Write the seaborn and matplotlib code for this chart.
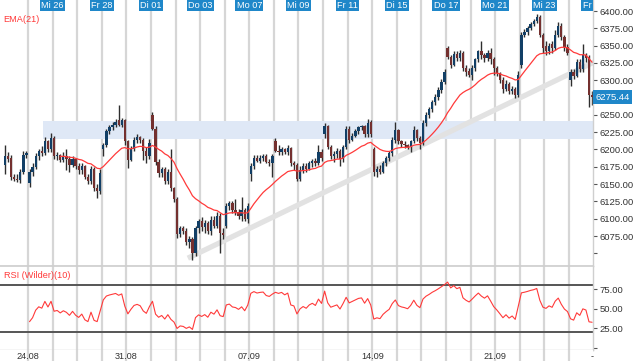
import numpy as np
import pandas as pd
import seaborn as sns
import matplotlib.pyplot as plt

sns.set_theme(style="white")
plt.rcParams["font.family"] = ["Liberation Sans", "DejaVu Sans"]

# hourly candles, 8 per trading day, Mon 24.08 .. Thu 24.09
opens = [
    6178, 6190, 6188, 6160, 6158, 6156, 6168, 6192,
    6152, 6168, 6175, 6190, 6198, 6195, 6212, 6200,
    6216, 6190, 6192, 6185, 6190, 6186, 6178, 6186,
    6176, 6170, 6176, 6160, 6154, 6172, 6145, 6140,
    6200, 6206, 6226, 6232, 6236, 6242, 6236, 6242,
    6212, 6185, 6200, 6214, 6218, 6214, 6198, 6190,
    6250, 6230, 6182, 6166, 6172, 6154, 6168, 6144,
    6128, 6078, 6086, 6082, 6066, 6070, 6050, 6086,
    6096, 6088, 6094, 6082, 6098, 6090, 6104, 6080,
    6090, 6118, 6122, 6112, 6110, 6104, 6112, 6100,
    6165, 6176, 6188, 6184, 6188, 6190, 6182, 6180,
    6212, 6198, 6196, 6200, 6196, 6202, 6180, 6178,
    6158, 6170, 6176, 6172, 6180, 6184, 6180, 6196,
    6222, 6234, 6204, 6190, 6194, 6198, 6186, 6204,
    6230, 6214, 6220, 6226, 6232, 6234, 6222, 6240,
    6200, 6168, 6172, 6168, 6180, 6188, 6195, 6214,
    6228, 6212, 6208, 6206, 6203, 6212, 6228, 6216,
    6210, 6238, 6250, 6258, 6268, 6276, 6286, 6298,
    6347, 6333, 6322, 6338, 6332, 6340, 6318, 6314,
    6308, 6318, 6330, 6342, 6336, 6332, 6340, 6330,
    6318, 6310, 6300, 6288, 6294, 6284, 6288, 6278,
    6322, 6366, 6370, 6375, 6381, 6385, 6392, 6366,
    6350, 6342, 6352, 6346, 6366, 6378, 6362, 6348,
    6300, 6312, 6306, 6326, 6316, 6336, 6334, 6278,
]
highs = [
    6206, 6196, 6192, 6165, 6164, 6172, 6198, 6198,
    6172, 6180, 6195, 6200, 6205, 6218, 6214, 6224,
    6220, 6196, 6194, 6196, 6200, 6190, 6190, 6188,
    6180, 6180, 6178, 6164, 6176, 6175, 6150, 6172,
    6210, 6230, 6236, 6240, 6244, 6264, 6246, 6244,
    6214, 6205, 6218, 6222, 6220, 6216, 6204, 6215,
    6254, 6234, 6186, 6175, 6174, 6172, 6200, 6146,
    6132, 6090, 6090, 6086, 6075, 6074, 6090, 6100,
    6102, 6098, 6096, 6104, 6104, 6110, 6108, 6086,
    6122, 6126, 6126, 6128, 6114, 6132, 6116, 6122,
    6180, 6192, 6192, 6192, 6194, 6194, 6186, 6194,
    6216, 6206, 6204, 6202, 6206, 6204, 6184, 6180,
    6176, 6180, 6180, 6184, 6186, 6188, 6206, 6200,
    6238, 6236, 6206, 6198, 6202, 6200, 6206, 6234,
    6234, 6224, 6230, 6234, 6236, 6236, 6244, 6242,
    6204, 6176, 6178, 6184, 6190, 6198, 6218, 6240,
    6230, 6214, 6212, 6208, 6214, 6234, 6230, 6220,
    6242, 6254, 6262, 6272, 6280, 6290, 6302, 6316,
    6350, 6336, 6342, 6342, 6344, 6342, 6322, 6318,
    6322, 6332, 6344, 6356, 6340, 6344, 6346, 6334,
    6320, 6312, 6304, 6300, 6298, 6292, 6290, 6314,
    6370, 6374, 6378, 6384, 6388, 6396, 6394, 6368,
    6356, 6354, 6356, 6372, 6384, 6382, 6366, 6352,
    6316, 6316, 6330, 6330, 6352, 6340, 6336, 6284,
]
lows = [
    6165, 6182, 6156, 6154, 6153, 6152, 6164, 6188,
    6146, 6162, 6172, 6185, 6190, 6192, 6196, 6196,
    6186, 6185, 6182, 6182, 6170, 6168, 6174, 6172,
    6164, 6165, 6158, 6150, 6150, 6140, 6130, 6136,
    6190, 6204, 6222, 6228, 6232, 6234, 6232, 6206,
    6173, 6183, 6198, 6210, 6210, 6185, 6180, 6186,
    6228, 6178, 6160, 6160, 6150, 6150, 6140, 6124,
    6072, 6074, 6078, 6062, 6058, 6040, 6046, 6080,
    6082, 6080, 6078, 6076, 6086, 6086, 6050, 6070,
    6086, 6112, 6108, 6106, 6100, 6096, 6096, 6094,
    6155, 6172, 6182, 6180, 6184, 6180, 6176, 6160,
    6196, 6192, 6192, 6194, 6192, 6176, 6170, 6154,
    6154, 6166, 6168, 6170, 6174, 6176, 6178, 6184,
    6216, 6200, 6186, 6182, 6188, 6176, 6182, 6200,
    6210, 6212, 6218, 6222, 6228, 6218, 6218, 6218,
    6162, 6160, 6164, 6166, 6176, 6184, 6190, 6210,
    6208, 6204, 6202, 6200, 6196, 6210, 6212, 6200,
    6206, 6234, 6246, 6254, 6264, 6272, 6282, 6294,
    6330, 6318, 6320, 6328, 6328, 6314, 6306, 6304,
    6300, 6314, 6326, 6330, 6326, 6328, 6324, 6308,
    6306, 6296, 6282, 6284, 6280, 6280, 6274, 6276,
    6318, 6362, 6366, 6372, 6378, 6382, 6362, 6340,
    6336, 6338, 6340, 6344, 6362, 6358, 6342, 6336,
    6292, 6302, 6304, 6312, 6312, 6326, 6262, 6264,
]
closes = [
    6190, 6186, 6160, 6158, 6156, 6168, 6192, 6195,
    6168, 6175, 6190, 6198, 6195, 6212, 6200, 6216,
    6190, 6192, 6185, 6190, 6186, 6178, 6186, 6176,
    6170, 6176, 6160, 6154, 6172, 6145, 6140, 6166,
    6206, 6226, 6232, 6236, 6240, 6236, 6242, 6212,
    6185, 6200, 6214, 6218, 6214, 6198, 6190, 6210,
    6230, 6182, 6166, 6172, 6154, 6168, 6144, 6128,
    6078, 6086, 6082, 6066, 6070, 6050, 6086, 6096,
    6088, 6094, 6082, 6098, 6090, 6104, 6080, 6076,
    6118, 6122, 6112, 6110, 6104, 6112, 6100, 6118,
    6176, 6188, 6184, 6188, 6190, 6182, 6180, 6190,
    6198, 6196, 6200, 6196, 6202, 6180, 6178, 6158,
    6170, 6176, 6172, 6180, 6184, 6180, 6196, 6188,
    6234, 6204, 6190, 6194, 6198, 6186, 6204, 6230,
    6214, 6220, 6226, 6232, 6234, 6222, 6238, 6222,
    6168, 6172, 6168, 6180, 6188, 6195, 6214, 6228,
    6212, 6208, 6206, 6203, 6212, 6228, 6216, 6210,
    6238, 6250, 6258, 6268, 6276, 6286, 6298, 6312,
    6333, 6322, 6338, 6332, 6340, 6318, 6312, 6308,
    6318, 6330, 6342, 6336, 6332, 6340, 6330, 6318,
    6310, 6300, 6288, 6294, 6284, 6288, 6278, 6308,
    6366, 6370, 6375, 6381, 6385, 6392, 6366, 6346,
    6342, 6350, 6346, 6366, 6378, 6362, 6348, 6340,
    6312, 6306, 6326, 6316, 6336, 6332, 6278, 6275.44,
]

candles_per_day = 8
top_labels = ["Mi 26", "Fr 28", "Di 01", "Do 03", "Mo 07", "Mi 09",
              "Fr 11", "Di 15", "Do 17", "Mo 21", "Mi 23", "Fr 25"]
top_label_days = [2, 4, 6, 8, 10, 12, 14, 16, 18, 20, 22, 24]
week_labels = ["24.08", "31.08", "07.09", "14.09", "21.09", "-"]
week_label_days = [1, 5, 10, 15, 20, 24]

price_ticks = [6050, 6075, 6100, 6125, 6150, 6175, 6200, 6225, 6250,
               6300, 6325, 6350, 6375, 6400]
rsi_ticks = [0, 25, 50, 75]
rsi_bands = [20, 80]

# resistance zone and support trend line
zone_low, zone_high, zone_from = 6215, 6241, 12.5
trend_x = [59.5, 192.0]
trend_y = [6043, 6327]

o = np.array(opens, dtype=float)
h = np.array(highs, dtype=float)
l = np.array(lows, dtype=float)
c = np.array(closes, dtype=float)
n = len(c)
idx = np.arange(n)

ema = pd.Series(c).ewm(span=21, adjust=False).mean()
delta = pd.Series(c).diff()
gain = delta.clip(lower=0).ewm(alpha=1 / 10, adjust=False).mean()
loss = (-delta.clip(upper=0)).ewm(alpha=1 / 10, adjust=False).mean()
rsi = 100 - 100 / (1 + gain / loss)

UP, DOWN, WICK = "#123f66", "#74302f", "#2e2e2e"
RED = "#ff3a3a"
BLUE = "#1f87c9"
GRID = "#d6d6d6"
TXT = "#333333"

W, H = 640, 361
def box(x0, y0, x1, y1):
    return [x0 / W, 1 - y1 / H, (x1 - x0) / W, (y1 - y0) / H]

fig = plt.figure(figsize=(6.4, 3.61), dpi=100)
ax = fig.add_axes(box(0, 0, 593, 266))
ax_rsi = fig.add_axes(box(0, 266, 593, 350), sharex=ax)
ax_dates = fig.add_axes(box(0, 350, 593, 361), sharex=ax)

day_starts = np.arange(1, n // candles_per_day + 1) * candles_per_day - 0.5
for a in (ax, ax_rsi, ax_dates):
    a.set_facecolor("white")
    a.set_xticks([])
    a.set_xticks(day_starts, minor=True)
    a.grid(which="minor", axis="x", color=GRID, lw=1.6)
    a.set_axisbelow(True)
    a.tick_params(which="both", bottom=False, labelbottom=False, left=False, labelleft=False)
    for s in ("left", "top"):
        a.spines[s].set_visible(False)
    for s in ("right", "bottom"):
        a.spines[s].set_color("#cfcfcf")
        a.spines[s].set_linewidth(1.0)
ax.set_xlim(-1.6, 191.3)

# price panel
ax.fill_between([zone_from, n + 2], zone_low, zone_high, color="#dfe8f6", lw=0, zorder=1)
ax.plot(trend_x, trend_y, color="#e2e2e2", lw=3.8, solid_capstyle="butt", zorder=1.5)

up = c >= o
ax.vlines(idx, l, h, color=WICK, lw=1.0, zorder=2)
body_lo = np.minimum(o, c)
body_h = np.maximum(np.abs(c - o), 2.0)
ax.bar(idx, body_h, bottom=body_lo, width=0.74,
       color=np.where(up, UP, DOWN), linewidth=0, zorder=3)

sns.lineplot(x=idx[18:], y=ema.values[18:], ax=ax, color=RED, linewidth=0.9, zorder=4)

ax.set_ylim(6031.7, 6415.9)
ax.yaxis.tick_right()
ax.set_yticks(price_ticks)
ax.set_yticklabels(["" if p == 6050 else f"{p:.2f}" for p in price_ticks])
ax.tick_params(axis="y", right=True, labelright=True, length=3, width=0.8,
               color="#555555", labelsize=6.8, labelcolor=TXT, pad=2)
ax.text(1.004, c[-1], f"{c[-1]:.2f}", transform=ax.get_yaxis_transform(),
        ha="left", va="center", fontsize=6.8, color="white",
        bbox=dict(boxstyle="square,pad=0.25", fc=BLUE, ec="none"), zorder=6)
ax.text(0.006, 1 - 20 / 266, "EMA(21)", transform=ax.transAxes, color=RED,
        fontsize=6.6, va="center", ha="left")

for lab, d in zip(top_labels, top_label_days):
    ax.text(d * candles_per_day - 0.5, 1 - 5.5 / 266, lab,
            transform=ax.get_xaxis_transform(), ha="center", va="center",
            fontsize=6.6, color="white", clip_on=True, zorder=7,
            bbox=dict(boxstyle="square,pad=0.15", fc=BLUE, ec="none"))
ax.set_xlabel("")
ax.set_ylabel("")

# RSI panel
for lvl in rsi_bands:
    ax_rsi.axhline(lvl, color="#555555", lw=1.4, zorder=2)
sns.lineplot(x=idx[8:], y=rsi.values[8:], ax=ax_rsi, color=RED, linewidth=0.8, zorder=3)
ax_rsi.set_ylim(-3.2, 104.5)
ax_rsi.yaxis.tick_right()
ax_rsi.set_yticks(rsi_ticks)
ax_rsi.set_yticklabels(["" if v == 0 else f"{v:.2f}" for v in rsi_ticks])
ax_rsi.tick_params(axis="y", right=True, labelright=True, length=3, width=0.8,
                   color="#555555", labelsize=6.8, labelcolor=TXT, pad=2)
ax_rsi.spines["top"].set_visible(True)
ax_rsi.spines["top"].set_color("#cfcfcf")
ax_rsi.text(0.006, 1 - 9 / 84, "RSI (Wilder)(10)", transform=ax_rsi.transAxes,
            color=RED, fontsize=6.6, va="center", ha="left")
ax_rsi.set_xlabel("")
ax_rsi.set_ylabel("")

# date strip
ax_dates.set_ylim(0, 1)
ax_dates.spines["bottom"].set_visible(False)
ax_dates.spines["right"].set_visible(False)
for lab, d in zip(week_labels, week_label_days):
    ax_dates.text(d * candles_per_day - 0.5, 0.4, lab, ha="right" if lab == "-" else "center",
                  va="center", fontsize=6.6, color=TXT)

fig.savefig("out.png", dpi=100)
